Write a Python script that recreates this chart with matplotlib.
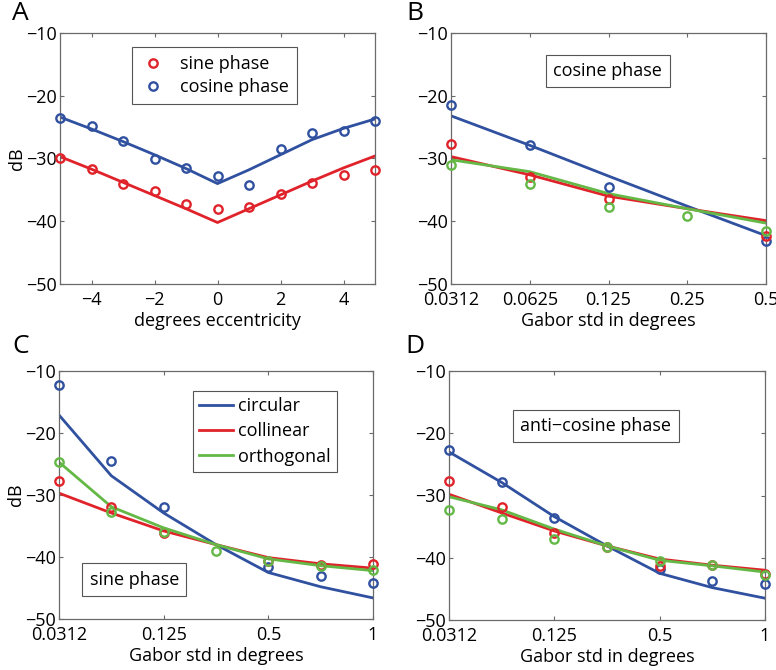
import numpy as np
import matplotlib
matplotlib.use("Agg")
import matplotlib.pyplot as plt

plt.rcParams['font.family'] = ['Open Sans', 'DejaVu Sans']

BLUE = '#3050a0'
RED = '#e0232a'
GREEN = '#64b946'

# Panel A
ecc = [-5, -4, -3, -2, -1, 0, 1, 2, 3, 4, 5]
A_sine_pts = [-30.0, -31.7, -34.0, -35.1, -37.2, -38.1, -37.7, -35.6, -33.9, -32.6, -31.8]
A_cos_pts = [-23.6, -24.8, -27.2, -30.1, -31.5, -32.8, -34.3, -28.5, -26.0, -25.6, -24.0]
A_sine_fit = [-29.7, -31.7, -33.8, -35.9, -38.0, -40.2, -38.0, -35.8, -33.6, -31.5, -29.6]
A_cos_fit = [-23.4, -25.3, -27.3, -29.4, -31.6, -34.0, -31.8, -29.4, -27.0, -25.2, -23.7]

# Panel B (cosine phase)
B_labels = ['0.0312', '0.0625', '0.125', '0.25', '0.5']
B_circ_pts = [-21.4, -27.9, -34.5, np.nan, -43.1]
B_coll_pts = [-27.7, -33.0, -36.5, np.nan, -42.3]
B_orth_pts = [-31.0, -34.1, -37.7, -39.1, -41.5]
B_circ_fit = [-23.2, -27.9, -32.8, -37.6, -42.3]
B_coll_fit = [-29.7, -32.6, -36.0, -38.0, -39.9]
B_orth_fit = [-30.2, -32.1, -35.6, -38.0, -40.3]

# Panels C (sine phase) and D (anti-cosine phase)
CD_labels = ['0.0312', '', '0.125', '', '0.5', '', '1']
C_circ_pts = [-12.3, -24.5, -32.0, np.nan, -41.6, -43.1, -44.2]
C_coll_pts = [-27.7, -32.0, -36.1, np.nan, -40.6, -41.3, -41.1]
C_orth_pts = [-24.7, -32.7, -36.0, -39.0, -40.7, -41.4, -42.1]
C_circ_fit = [-17.1, -26.9, -32.9, -38.0, -42.5, -44.8, -46.6]
C_coll_fit = [-29.7, -32.9, -35.8, -38.0, -40.1, -41.1, -41.8]
C_orth_fit = [-24.7, -31.9, -35.3, -38.0, -40.3, -41.4, -42.2]

D_circ_pts = [-22.7, -27.9, -33.6, np.nan, -41.8, -43.7, -44.2]
D_coll_pts = [-27.6, -31.9, -36.0, -38.2, -41.4, -41.2, -42.6]
D_orth_pts = [-32.4, -33.8, -37.0, -38.2, -40.5, -41.1, -42.7]
D_circ_fit = [-23.0, -27.9, -33.4, -38.1, -42.5, -44.8, -46.5]
D_coll_fit = [-29.8, -32.8, -35.7, -38.1, -40.2, -41.2, -42.0]
D_orth_fit = [-30.2, -32.3, -35.4, -38.1, -40.4, -41.3, -42.3]

W, H = 776, 670
fig = plt.figure(figsize=(W / 100, H / 100), dpi=100)

def ax_at(l, r, t, b):
    return fig.add_axes([l / W, 1 - b / H, (r - l) / W, (b - t) / H])

axA = ax_at(60, 375, 33, 284)
axB = ax_at(451, 766, 33, 284)
axC = ax_at(59, 373, 371, 619)
axD = ax_at(449, 765, 371, 620)

FS = 13
LW = 2.0
MS = 6
MEW = 1.7
SPINE = '#6a6a6a'

def style(ax):
    ax.set_ylim(-50, -10)
    ax.set_yticks([-50, -40, -30, -20, -10])
    ax.tick_params(direction='in', length=3, width=0.8, color=SPINE,
                   top=True, right=True, labelsize=FS)
    ax.tick_params(axis='y', pad=2)
    ax.tick_params(axis='x', pad=5)
    for lab in ax.get_yticklabels():
        lab.set_verticalalignment('center_baseline')
    for s in ax.spines.values():
        s.set_color(SPINE)
        s.set_linewidth(0.9)

def pts(ax, x, y, c):
    ax.plot(x, y, 'o', mfc='none', mec=c, ms=MS, mew=MEW, linestyle='none', clip_on=False, zorder=4)

def textbox(ax, x, y, s):
    ax.text(x, y, s, transform=ax.transAxes, ha='center', va='center', fontsize=FS,
            bbox=dict(boxstyle='square,pad=0.4', fc='white', ec='#555555', lw=0.8))

# A
style(axA)
axA.set_xlim(-5, 5)
axA.set_xticks([-4, -2, 0, 2, 4])
axA.plot(ecc, A_cos_fit, color=BLUE, lw=LW)
axA.plot(ecc, A_sine_fit, color=RED, lw=LW)
axA.plot(ecc, A_sine_pts, 'o', mfc='none', mec=RED, ms=MS, mew=MEW, clip_on=False, zorder=4, label='sine phase')
axA.plot(ecc, A_cos_pts, 'o', mfc='none', mec=BLUE, ms=MS, mew=MEW, clip_on=False, zorder=4, label='cosine phase')
legA = axA.legend(loc='upper center', bbox_to_anchor=(0.49, 0.945), fontsize=FS, fancybox=False,
                  edgecolor='#555555', framealpha=1, handlelength=1.4, borderpad=0.45,
                  labelspacing=0.3, borderaxespad=0)
legA.get_frame().set_linewidth(0.8)
axA.set_xlabel('degrees eccentricity', fontsize=FS, labelpad=2)
axA.set_ylabel('dB', fontsize=FS, labelpad=0)

# B
style(axB)
xb = np.arange(len(B_labels))
axB.set_xlim(0, len(B_labels) - 1)
axB.set_xticks(xb)
axB.set_xticklabels(B_labels)
axB.plot(xb, B_circ_fit, color=BLUE, lw=LW)
axB.plot(xb, B_coll_fit, color=RED, lw=LW)
axB.plot(xb, B_orth_fit, color=GREEN, lw=LW)
pts(axB, xb, B_circ_pts, BLUE)
pts(axB, xb, B_coll_pts, RED)
pts(axB, xb, B_orth_pts, GREEN)
textbox(axB, 0.498, 0.849, 'cosine phase')
axB.set_xlabel('Gabor std in degrees', fontsize=FS, labelpad=2)

# C and D
for ax, cp, lp, op, cf, lf, of in [
        (axC, C_circ_pts, C_coll_pts, C_orth_pts, C_circ_fit, C_coll_fit, C_orth_fit),
        (axD, D_circ_pts, D_coll_pts, D_orth_pts, D_circ_fit, D_coll_fit, D_orth_fit)]:
    style(ax)
    xc = np.arange(len(CD_labels))
    ax.set_xlim(0, len(CD_labels) - 1)
    ax.set_xticks(xc[::2])
    ax.set_xticklabels(CD_labels[::2])
    ax.plot(xc, cf, color=BLUE, lw=LW, label='circular')
    ax.plot(xc, lf, color=RED, lw=LW, label='collinear')
    ax.plot(xc, of, color=GREEN, lw=LW, label='orthogonal')
    pts(ax, xc, cp, BLUE)
    pts(ax, xc, lp, RED)
    pts(ax, xc, op, GREEN)
    ax.set_xlabel('Gabor std in degrees', fontsize=FS, labelpad=2)

axC.set_ylabel('dB', fontsize=FS, labelpad=0)
legC = axC.legend(loc='upper right', bbox_to_anchor=(0.885, 0.92), fontsize=FS, fancybox=False,
                  edgecolor='#555555', framealpha=1, handlelength=1.9, handletextpad=0.25,
                  borderpad=0.35, labelspacing=0.4, borderaxespad=0)
legC.get_frame().set_linewidth(0.8)
textbox(axC, 0.240, 0.159, 'sine phase')
textbox(axD, 0.465, 0.779, 'anti\u2212cosine phase')

for s, x, y in [('A', 12, 1), ('B', 406, 1), ('C', 12, 334), ('D', 405, 334)]:
    fig.text(x / W, 1 - y / H, s, fontsize=19, va='top', ha='left')

fig.savefig('out.png', dpi=100)
